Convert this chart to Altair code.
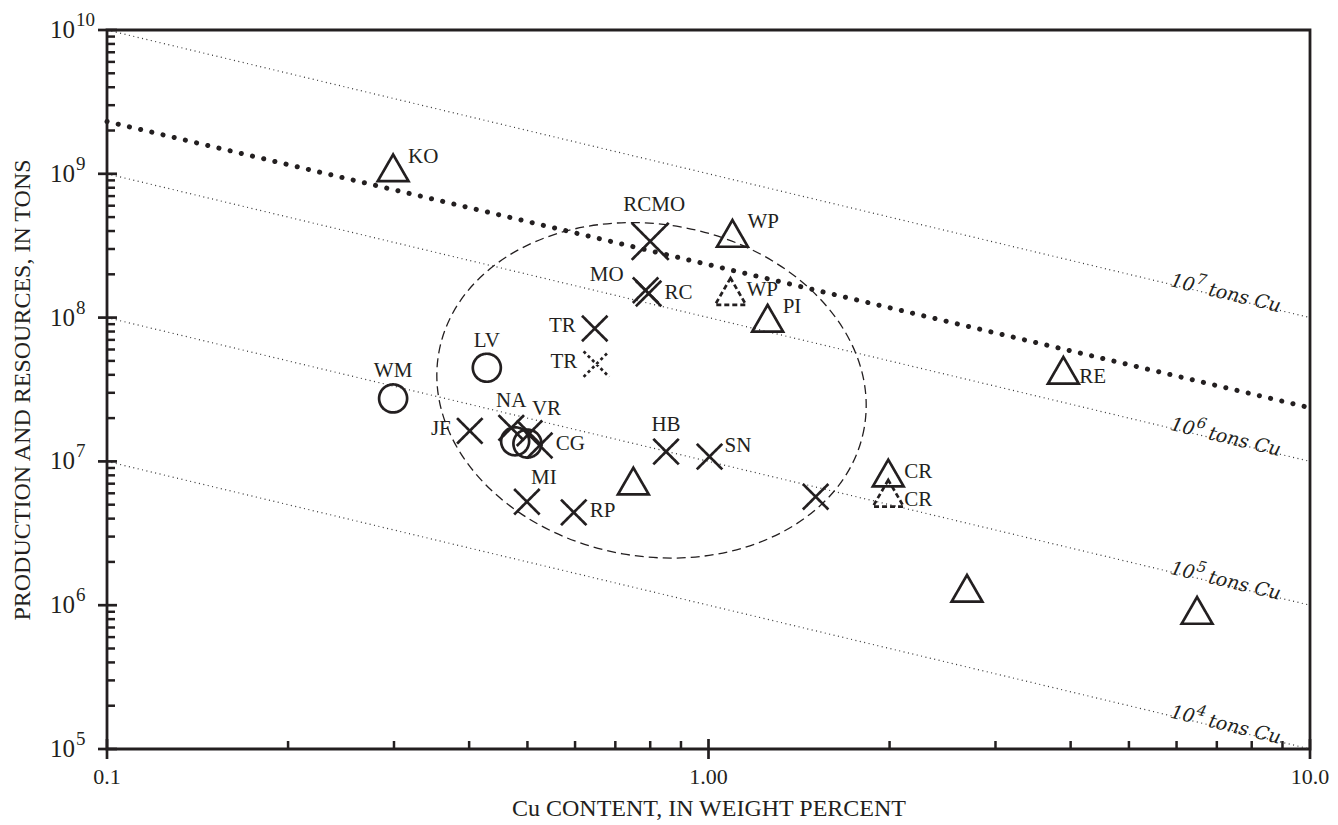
import altair as alt
import pandas as pd

W, H = 1203, 719
INK = "#231f20"
SERIF = "Liberation Serif"
ITAL = "DejaVu Serif"

# ---------------- deposits (grade %, tonnage t) ----------------
names = ["KO", "WP", "WP", "PI", "RE", "", "CR", "CR", "", "",
         "LV", "WM", "", "",
         "RCMO", "MO", "RC", "TR", "TR", "JF", "NA", "VR", "CG", "HB", "SN", "MI", "RP", ""]
grade = [0.299, 1.096, 1.088, 1.254, 3.89, 0.75, 1.99, 1.99, 2.69, 6.49,
         0.428, 0.299, 0.477, 0.50,
         0.80, 0.786, 0.795, 0.647, 0.651, 0.401, 0.47, 0.504, 0.524, 0.85, 1.004, 0.499, 0.597, 1.507]
tonnage = [1.1e9, 3.85e8, 1.52e8, 9.9e7, 4.3e7, 7.3e6, 8.3e6, 6.0e6, 1.31e6, 9.2e5,
           4.48e7, 2.74e7, 1.38e7, 1.33e7,
           3.39e8, 1.55e8, 1.47e8, 8.4e7, 4.75e7, 1.63e7, 1.71e7, 1.57e7, 1.29e7, 1.17e7, 1.08e7,
           5.24e6, 4.42e6, 5.68e6]
marker = ["triangle"] * 10 + ["circle"] * 4 + ["cross_large"] + ["cross"] * 13
outline = ["solid", "solid", "dashed", "solid", "solid", "solid", "solid", "dashed", "solid", "solid",
           "solid", "solid", "solid", "solid",
           "solid", "solid", "solid", "solid", "dotted", "solid", "solid", "solid", "solid", "solid",
           "solid", "solid", "solid", "solid"]
anchor = ["ne", "ne", "e", "ne", "se", "none", "e", "se", "none", "none",
          "n", "n", "none", "none",
          "N", "nw", "e", "w", "w", "w", "n", "nne", "e", "n", "ne", "nne", "e", "none"]

# contained-copper lines (tons Cu) and the grade range they span
cu_levels = [1e7, 1e6, 1e5, 1e4]
cu_exponents = ["7", "6", "5", "4"]
grade_ends = [0.1, 10.0]
label_grade = 5.85

# heavy dotted line (end points)
trend_grade = [0.1, 10.0]
trend_tonnage = [2.31e9, 2.36e7]

# dashed field ellipse centre
field_grade = [0.804]
field_tonnage = [3.12e7]

# axis ticks
y_exponents = [5, 6, 7, 8, 9, 10]
y_minor = [m * 10 ** e for e in range(5, 10) for m in range(2, 10)]
x_major = [0.1, 1.0, 10.0]
x_major_labels = ["0.1", "1.00", "10.0"]
x_minor = [m / 10 for m in range(2, 10)] + [float(m) for m in range(2, 10)]

# ---------------- tables ----------------
df = pd.DataFrame(dict(name=names, grade=grade, tonnage=tonnage, marker=marker,
                       outline=outline, anchor=anchor))
lines_df = pd.DataFrame([dict(cu=c, grade=g, tonnage=c * 100 / g) for c in cu_levels for g in grade_ends])
lab_df = pd.DataFrame(dict(exp=cu_exponents, grade=[label_grade] * 4,
                           tonnage=[c * 100 / label_grade for c in cu_levels]))
trend_df = pd.DataFrame(dict(grade=trend_grade, tonnage=trend_tonnage))
field_df = pd.DataFrame(dict(grade=field_grade, tonnage=field_tonnage))
ymaj_df = pd.DataFrame(dict(v=[10.0 ** e for e in y_exponents], exp=[str(e) for e in y_exponents]))
ymin_df = pd.DataFrame(dict(v=y_minor))
xmaj_df = pd.DataFrame(dict(v=x_major, lab=x_major_labels))
xmin_df = pd.DataFrame(dict(v=x_minor))

xscale = alt.Scale(type="log", domain=[0.1, 10], nice=False)
yscale = alt.Scale(type="log", domain=[1e5, 1e10], nice=False)
xaxis = alt.Axis(title="Cu CONTENT, IN WEIGHT PERCENT", labels=False, ticks=False, domain=False,
                 grid=False, titleFont=SERIF, titleFontSize=24, titleFontWeight="normal",
                 titleColor=INK, titleY=59, titleBaseline="middle")
yaxis = alt.Axis(title="PRODUCTION AND RESOURCES, IN TONS", labels=False, ticks=False, domain=False,
                 grid=False, titleFont=SERIF, titleFontSize=24, titleFontWeight="normal",
                 titleColor=INK, titleX=-85, titleY=H / 2, titleBaseline="middle", titleAlign="center")


def X(f):
    return alt.X(f, type="quantitative", scale=xscale, axis=xaxis)


def Y(f):
    return alt.Y(f, type="quantitative", scale=yscale, axis=yaxis)


layers = []

# thin dotted contained-Cu lines
layers.append(alt.Chart(lines_df).mark_line(strokeDash=[1, 3.5], strokeWidth=1.2, color="#333333")
              .encode(x=X("grade"), y=Y("tonnage"), detail="cu:N"))

# heavy dotted line
layers.append(alt.Chart(trend_df).mark_line(strokeDash=[0.1, 11.4], strokeCap="round",
                                            strokeWidth=5, color=INK)
              .encode(x=X("grade"), y=Y("tonnage")))

# dashed field ellipse (custom symbol)
kb, k, b = 0.4244, 0.5523, 0.7685
ELLIPSE = (f"M1,0 C1,{kb} {k},{b} 0,{b} C-{k},{b} -1,{kb} -1,0 "
           f"C-1,-{kb} -{k},-{b} 0,-{b} C{k},-{b} 1,-{kb} 1,0 Z")
layers.append(alt.Chart(field_df).mark_point(shape=ELLIPSE, size=432 ** 2, angle=10, filled=False,
                                             strokeDash=[9, 5], strokeWidth=1.3, color=INK, opacity=1)
              .encode(x=X("grade"), y=Y("tonnage")))

# deposit markers
XPATH = "M-1,-1L1,1M-1,1L1,-1"
MARKERS = {"triangle": ("triangle-up", 950), "circle": ("circle", 784),
           "cross": (XPATH, 650), "cross_large": (XPATH, 1369)}
dash_scale = alt.Scale(domain=["solid", "dashed", "dotted"], range=[[1, 0], [5, 3], [3, 3]])
for kind, (shape, size) in MARKERS.items():
    layers.append(alt.Chart(df).transform_filter(alt.datum.marker == kind)
                  .mark_point(shape=shape, size=size, filled=False, strokeWidth=2.7, color=INK, opacity=1)
                  .encode(x=X("grade"), y=Y("tonnage"),
                          strokeDash=alt.StrokeDash("outline:N", scale=dash_scale, legend=None)))

# deposit labels
ANCH = {"ne": ("left", 15, -11), "e": ("left", 16, -1), "se": ("left", 16, 7),
        "w": ("right", -19, -2), "nw": ("right", -22, -15), "n": ("center", 0, -27),
        "N": ("center", 4, -36), "nne": ("center", 17, -24)}
for a, (al, dx, dy) in ANCH.items():
    layers.append(alt.Chart(df).transform_filter(alt.datum.anchor == a)
                  .mark_text(align=al, baseline="middle", dx=dx, dy=dy, font=SERIF, fontSize=21, color=INK)
                  .encode(x=X("grade"), y=Y("tonnage"), text="name:N"))

# contained-Cu line labels
rot = 13.46
layers.append(alt.Chart(lab_df).mark_text(align="left", baseline="alphabetic", angle=rot, dx=0, dy=2,
                                          font=ITAL, fontStyle="italic", fontSize=19, color=INK)
              .encode(x=X("grade"), y=Y("tonnage"), text=alt.value("10")))
layers.append(alt.Chart(lab_df).mark_text(align="left", baseline="alphabetic", angle=rot, dx=25, dy=-7,
                                          font=ITAL, fontStyle="italic", fontSize=15, color=INK)
              .encode(x=X("grade"), y=Y("tonnage"), text="exp:N"))
layers.append(alt.Chart(lab_df).mark_text(align="left", baseline="alphabetic", angle=rot, dx=39, dy=2,
                                          font=ITAL, fontStyle="italic", fontSize=19, color=INK)
              .encode(x=X("grade"), y=Y("tonnage"), text=alt.value("tons Cu")))

# ticks
layers.append(alt.Chart(ymaj_df).mark_rule(strokeWidth=2.7, color=INK)
              .encode(y=Y("v"), x=alt.value(-9), x2=alt.value(10)))
layers.append(alt.Chart(ymin_df).mark_rule(strokeWidth=2.5, color=INK)
              .encode(y=Y("v"), x=alt.value(0), x2=alt.value(8)))
layers.append(alt.Chart(xmaj_df).mark_rule(strokeWidth=2.7, color=INK)
              .encode(x=X("v"), y=alt.value(H - 10), y2=alt.value(H + 10)))
layers.append(alt.Chart(xmin_df).mark_rule(strokeWidth=2.5, color=INK)
              .encode(x=X("v"), y=alt.value(H - 8), y2=alt.value(H)))

# tick labels
layers.append(alt.Chart(ymaj_df).mark_text(align="left", baseline="middle", font=SERIF, fontSize=25, color=INK)
              .encode(y=Y("v"), x=alt.value(-57), text=alt.value("10")))
layers.append(alt.Chart(ymaj_df).mark_text(align="left", baseline="middle", dy=-10, font=SERIF,
                                           fontSize=19, color=INK)
              .encode(y=Y("v"), x=alt.value(-31), text="exp:N"))
layers.append(alt.Chart(xmaj_df).mark_text(align="center", baseline="middle", font=SERIF, fontSize=22, color=INK)
              .encode(x=X("v"), y=alt.value(H + 28), text="lab:N"))

chart = (alt.layer(*layers)
         .properties(width=W, height=H, autosize=alt.AutoSizeParams(type="none"),
                     padding={"left": 99, "top": 22, "right": 20, "bottom": 76}, background="white")
         .configure_view(stroke=INK, strokeWidth=2.8))

chart.save("out.html", embed_options={"renderer": "svg", "actions": False})
